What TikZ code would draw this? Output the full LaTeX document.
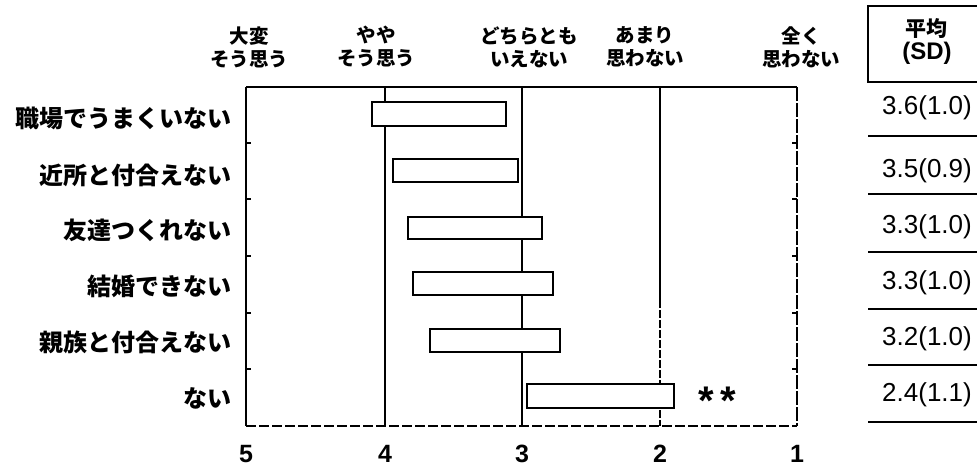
\documentclass[tikz,border=0pt]{standalone}
\usepackage{fontspec}
\setmainfont{Liberation Sans}
\newfontfamily\jp{Noto Sans CJK JP}
\begin{document}
\begin{tikzpicture}[x=1pt,y=-1pt,
  bar/.style={draw=black, line width=2.2pt, fill=white},
  frame/.style={line width=1.3pt},
  rowlab/.style={anchor=east, font=\jp\bfseries\fontsize{24}{24}\selectfont, inner sep=0},
  head/.style={align=center, font=\jp\bfseries\fontsize{19.5}{23}\selectfont, inner sep=0},
  val/.style={anchor=east, font=\fontsize{26}{26}\selectfont, inner sep=0},
  num/.style={font=\bfseries\fontsize{25}{25}\selectfont, inner sep=0},
  sep/.style={line width=1.3pt}]
\useasboundingbox (0,0) rectangle (977,467);
% frame
\coordinate (tl) at (246,87);
\coordinate (tr) at (797,87);
\coordinate (bl) at (246,426);
\coordinate (br) at (797,426);
\draw[frame] (tl) -- (tr);
\draw[frame] (tl) -- (bl);
\draw[frame,dash pattern=on 10pt off 3pt] (bl) -- (br);
\draw[frame,dash pattern=on 14pt off 2pt] (tr) -- (br);
% grid lines
\coordinate (g4t) at (385,87); \coordinate (g4b) at (385,426);
\coordinate (g3t) at (522,87); \coordinate (g3b) at (522,426);
\coordinate (g2t) at (660,87); \coordinate (g2m) at (660,300); \coordinate (g2b) at (660,426);
\draw[frame] (g4t) -- (g4b);
\draw[frame] (g3t) -- (g3b);
\draw[frame] (g2t) -- (g2m);
\draw[frame,dash pattern=on 8pt off 2pt] (g2m) -- (g2b);
% row ticks
\foreach \y in {143,199,256,313,369}{
  \draw[frame] (246,\y) -- (251,\y);
  \draw[frame] (797,\y) -- (792,\y);
}
% bars
\draw[bar] (372,102) rectangle (506,126);
\draw[bar] (393,159) rectangle (518,182);
\draw[bar] (408,217) rectangle (542,239);
\draw[bar] (413,272) rectangle (553,295);
\draw[bar] (430,329) rectangle (560,352);
\draw[bar] (527,384) rectangle (674,408);
\node[font=\bfseries\fontsize{40}{40}\selectfont, inner sep=0] (sig) at (717,401) {*\,*};
% headers
\node[head] (h1) at (249,47) {大変\\そう思う};
\node[head] (h2) at (376,47) {やや\\そう思う};
\node[head] (h3) at (529,47) {どちらとも\\いえない};
\node[head] (h4) at (645,47) {あまり\\思わない};
\node[head] (h5) at (801,47) {全く\\思わない};
% row labels
\node[rowlab] (r1) at (232,118) {職場でうまくいない};
\node[rowlab] (r2) at (232,175) {近所と付合えない};
\node[rowlab] (r3) at (232,230) {友達つくれない};
\node[rowlab] (r4) at (232,286) {結婚できない};
\node[rowlab] (r5) at (232,342) {親族と付合えない};
\node[rowlab] (r6) at (232,398) {ない};
% axis numbers
\node[num] (n5) at (246,454) {5};
\node[num] (n4) at (385,454) {4};
\node[num] (n3) at (522,454) {3};
\node[num] (n2) at (660,454) {2};
\node[num] (n1) at (797,454) {1};
% mean (SD) box
\draw[line width=1.2pt] (868,6) rectangle (990,82);
\node[font=\jp\bfseries\fontsize{21}{21}\selectfont, inner sep=0] (avg) at (926,29) {平均};
\node[font=\bfseries\fontsize{24}{24}\selectfont, inner sep=0] (sd) at (927,53) {(SD)};
% values
\node[val] (v1) at (972,108) {3.6(1.0)};
\node[val] (v2) at (972,171) {3.5(0.9)};
\node[val] (v3) at (972,227) {3.3(1.0)};
\node[val] (v4) at (972,283) {3.3(1.0)};
\node[val] (v5) at (972,339) {3.2(1.0)};
\node[val] (v6) at (972,395) {2.4(1.1)};
\foreach \y in {136,194,252,309,365,422}{
  \draw[sep] (868,\y) -- (977,\y);
}
\end{tikzpicture}
\end{document}
